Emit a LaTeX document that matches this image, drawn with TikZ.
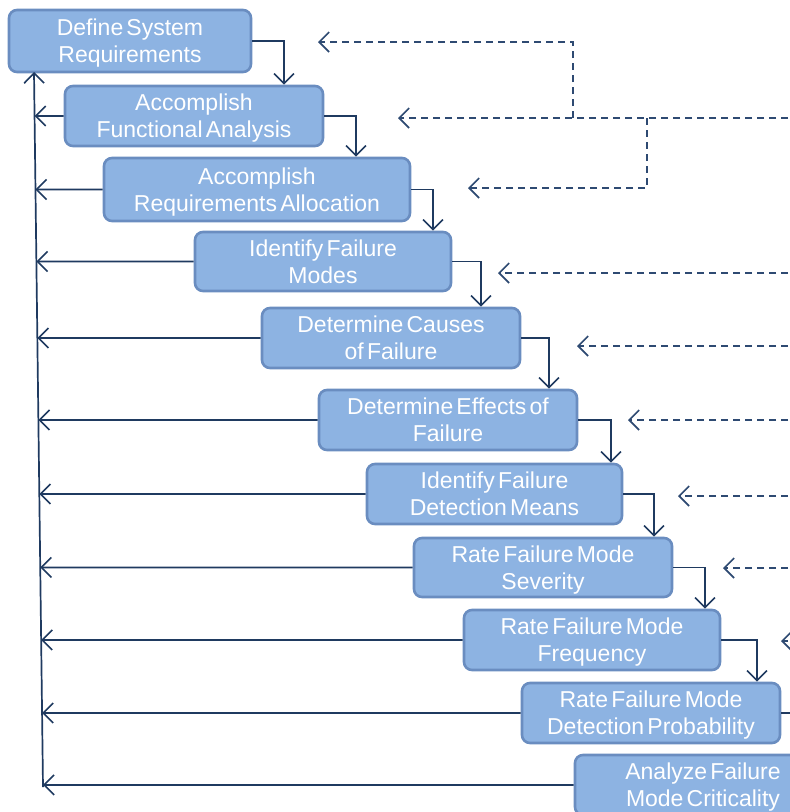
\documentclass[tikz,border=0pt]{standalone}
\usepackage{fontspec}
\setmainfont{Liberation Sans}[WordSpace=0.5]
\usetikzlibrary{arrows.meta}
\definecolor{boxfill}{HTML}{8DB3E2}
\definecolor{boxline}{HTML}{6A8DC0}
\definecolor{conncol}{HTML}{1F3A60}
\definecolor{dashcol}{HTML}{2E4A72}
\newcommand{\twolines}[2]{\raisebox{-3pt}[\height][\depth]{\begin{tabular}{@{}c@{}}#1\\#2\end{tabular}}}
\tikzset{
  stepbox/.style={rectangle, rounded corners=8pt, draw=boxline, line width=2.6pt,
    fill=boxfill, text=white, inner sep=0pt,
    font=\fontsize{23}{27}\selectfont},
  conn/.style={draw=conncol, line width=1.7pt,
    -{Straight Barb[length=10pt,width=20pt,line width=1.6pt]}},
  plainconn/.style={draw=conncol, line width=1.7pt},
  dsh/.style={draw=dashcol, line width=2pt, dash pattern=on 7pt off 5pt},
  dsharrow/.style={dsh, -{Straight Barb[length=10pt,width=20pt,line width=1.6pt]}}
}
\begin{document}
\begin{tikzpicture}[x=1pt,y=-1pt]
\useasboundingbox (0,0) rectangle (790,812);
\clip (0,0) rectangle (790,812);
% boxes
\node[stepbox, minimum width=242pt, minimum height=62pt] (b1) at (130,41) {\twolines{Define System}{Requirements}};
\node[stepbox, minimum width=258pt, minimum height=60pt] (b2) at (194,116) {\twolines{Accomplish}{Functional Analysis}};
\node[stepbox, minimum width=306pt, minimum height=63pt] (b3) at (257,189.5) {\twolines{Accomplish}{Requirements Allocation}};
\node[stepbox, minimum width=256pt, minimum height=59pt] (b4) at (323,261.5) {\twolines{Identify Failure}{Modes}};
\node[stepbox, minimum width=258pt, minimum height=60pt] (b5) at (391,338) {\twolines{Determine Causes}{of Failure}};
\node[stepbox, minimum width=258pt, minimum height=60pt] (b6) at (448,420) {\twolines{Determine Effects of}{Failure}};
\node[stepbox, minimum width=255pt, minimum height=60pt] (b7) at (494.5,494) {\twolines{Identify Failure}{Detection Means}};
\node[stepbox, minimum width=258pt, minimum height=59pt] (b8) at (543,567.5) {\twolines{Rate Failure Mode}{Severity}};
\node[stepbox, minimum width=256pt, minimum height=60pt] (b9) at (592,640) {\twolines{Rate Failure Mode}{Frequency}};
\node[stepbox, minimum width=258pt, minimum height=60pt] (b10) at (651,713) {\twolines{Rate Failure Mode}{Detection Probability}};
\node[stepbox, minimum width=256pt, minimum height=60pt] (b11) at (703,785) {\twolines{Analyze Failure}{Mode Criticality}};
% forward connectors
\draw[conn] (b1.east) -| (b2.north -| 284,0);
\draw[conn] (b2.east) -| (b3.north -| 356,0);
\draw[conn] (b3.east) -| (b4.north -| 433,0);
\draw[conn] (b4.east) -| (b5.north -| 481,0);
\draw[conn] (b5.east) -| (b6.north -| 549,0);
\draw[conn] (b6.east) -| (b7.north -| 611,0);
\draw[conn] (b7.east) -| (b8.north -| 654,0);
\draw[conn] (b8.east) -| (b9.north -| 705,0);
\draw[conn] (b9.east) -| (b10.north -| 757,0);
\coordinate (out10) at (800,713);
\draw[plainconn] (b10.east) -- (out10);
% feedback line
\coordinate (vtop) at (34,72);
\coordinate (vbot) at (43,787);
\draw[conn] (vbot) -- (vtop);
\foreach \b in {b2,b3,b4,b5,b6,b7,b8,b9,b10,b11}{
  \draw[conn] (\b.west) -- (intersection of vtop--vbot and \b.west--\b.east);
}
% dashed inputs
\coordinate (t1) at (318,42);
\coordinate (t2) at (398,118);
\coordinate (t3) at (468,188);
\coordinate (t4) at (498,273);
\coordinate (t5) at (577,346);
\coordinate (t6) at (628,420);
\coordinate (t7) at (678,496);
\coordinate (t8) at (723,568);
\coordinate (t9) at (781,641);
\coordinate (j1) at (573,118);
\coordinate (j2) at (647,118);
\draw[dsharrow] (800,118) -- (t2);
\draw[dsharrow] (j1) |- (t1);
\draw[dsharrow] (j2) |- (t3);
\draw[dsharrow] (800,273) -- (t4);
\draw[dsharrow] (800,346) -- (t5);
\draw[dsharrow] (800,420) -- (t6);
\draw[dsharrow] (800,496) -- (t7);
\draw[dsharrow] (800,568) -- (t8);
\draw[dsharrow] (800,641) -- (t9);
\end{tikzpicture}
\end{document}
